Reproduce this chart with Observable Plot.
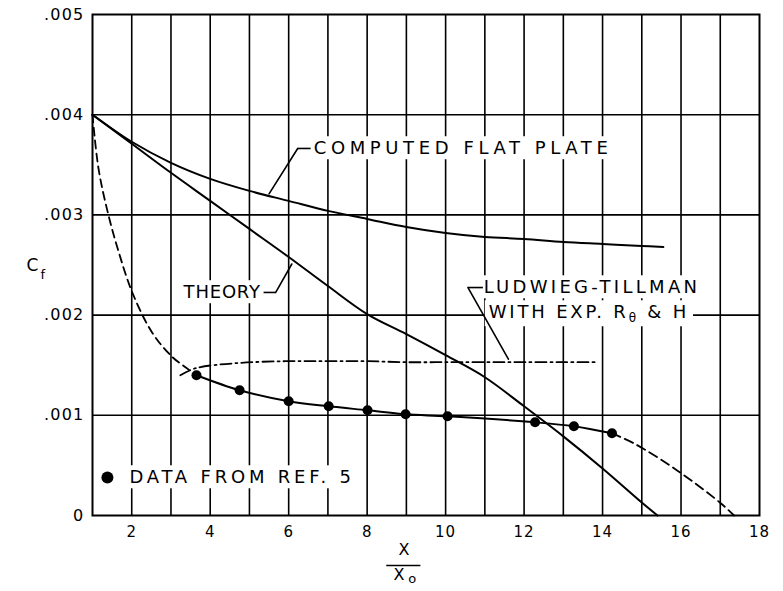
<!DOCTYPE html>
<html><head><meta charset="utf-8">
<script src="https://cdn.jsdelivr.net/npm/d3@7"></script>
<script src="https://cdn.jsdelivr.net/npm/@observablehq/plot@0.6"></script>
<style>body{margin:0;background:#fff}#chart{position:absolute;left:0;top:0}</style>
</head><body><div id="chart"></div>
<script>
// ---- data ----
const xGrid = [2,3,4,5,6,7,8,9,10,11,12,13,14,15,16,17];
const yGrid = [0.001,0.002,0.003,0.004];
const xTickLabels = [2,4,6,8,10,12,14,16,18];
const yTickLabels = [0,0.001,0.002,0.003,0.004,0.005];

const flatX = [1,2,3,4,5,6,7,8,9,10,11,12,13,14,15,15.55];
const flatY = [0.004,0.00373,0.00352,0.00336,0.00324,0.00314,0.00304,0.00296,0.00288,0.00282,0.00278,0.00276,0.00273,0.00271,0.00269,0.00268];

const theoryX = [1,2,3,4,5,6,7,8,9,10,11,12,13,14,15,15.4];
const theoryY = [0.004,0.00371,0.00342,0.00314,0.00286,0.00258,0.00229,0.00201,0.00181,0.0016,0.00138,0.00109,0.00079,0.00047,0.00013,0];

const dataX = [3.65,4.75,6.0,7.02,8.01,8.98,10.05,12.28,13.27,14.24];
const dataY = [0.0014,0.00125,0.00114,0.00109,0.00105,0.00101,0.00099,0.00093,0.00089,0.00082];

const extLeftX = [1,1.15,1.38,1.66,2.02,2.53,3.04,3.37,3.65];
const extLeftY = [0.004,0.00347,0.00304,0.00264,0.00222,0.00182,0.00158,0.00148,0.0014];
const extRightX = [14.24,14.8,15.9,17.02,17.35];
const extRightY = [0.00082,0.00072,0.00045,0.00012,0];

const ltX = [3.24,3.63,4.65,5.92,7,8,9,10,11,12,13,13.85];
const ltY = [0.0014,0.00147,0.00152,0.00154,0.00154,0.00154,0.00153,0.00153,0.00153,0.00153,0.00153,0.00153];

// annotation labels (data coordinates)
const labelsStart = [
  {x:6.64, y:0.003663, text:"COMPUTED FLAT PLATE"},
  {x:10.97, y:0.002275, text:"LUDWIEG-TILLMAN"},
  {x:11.1, y:0.002026, text:"WITH EXP. Rθ & H"},
  {x:1.94, y:0.000379, text:"DATA FROM REF. 5"}
];
const labelsEnd = [{x:5.29, y:0.002226, text:"THEORY"}];
const legendDot = [{x:1.38, y:0.000379}];
const leaderStubs = [
  {x1:6.56, x2:6.23, y:0.003663},
  {x1:5.36, x2:5.67, y:0.002226},
  {x1:10.95, x2:10.57, y:0.002275}
];
const leaderArrows = [
  {x1:6.23, y1:0.003663, x2:5.5, y2:0.00321, bend:-12},
  {x1:5.67, y1:0.002226, x2:6.08, y2:0.00251, bend:-10},
  {x1:10.57, y1:0.002275, x2:11.6, y2:0.00156, bend:0}
];

const pts = (xs, ys) => xs.map((x, i) => ({x, y: ys[i]}));
const fmtY = d => d === 0 ? "0" : d3.format(".3f")(d).slice(1);

const plot = Plot.plot({
  width: 783, height: 591,
  marginLeft: 92, marginRight: 24, marginTop: 14, marginBottom: 76,
  x: {domain: [1, 18], label: null},
  y: {domain: [0, 0.005], label: null},
  style: {fontFamily: "DejaVu Sans", background: "white", color: "black", overflow: "visible"},
  marks: [
    Plot.ruleX(xGrid, {stroke: "black", strokeWidth: 1.6}),
    Plot.ruleY(yGrid, {stroke: "black", strokeWidth: 1.6}),
    Plot.frame({stroke: "black", strokeWidth: 2}),
    Plot.axisX({ticks: xTickLabels, tickSize: 0, tickPadding: 11, fontSize: 15, label: null}),
    Plot.axisY({ticks: yTickLabels, tickSize: 0, tickPadding: 8, fontSize: 16, tickFormat: fmtY, label: null}),
    // labels (white boxes added below interrupt the grid lines)
    Plot.text(labelsStart, {x: "x", y: "y", text: "text", textAnchor: "start", fontSize: 18, fill: "black"}),
    Plot.text(labelsEnd, {x: "x", y: "y", text: "text", textAnchor: "end", fontSize: 18, fill: "black"}),
    Plot.link(leaderStubs, {x1: "x1", x2: "x2", y1: "y", y2: "y", stroke: "black", strokeWidth: 1.6}),
    Plot.arrow(leaderArrows, {x1: "x1", y1: "y1", x2: "x2", y2: "y2", bend: "bend", headLength: 11, headAngle: 35, stroke: "black", strokeWidth: 1.6}),
    // curves
    Plot.line(pts(flatX, flatY), {x: "x", y: "y", curve: "catmull-rom", stroke: "black", strokeWidth: 2}),
    Plot.line(pts(theoryX, theoryY), {x: "x", y: "y", curve: "catmull-rom", stroke: "black", strokeWidth: 2}),
    Plot.line(pts(ltX, ltY), {x: "x", y: "y", curve: "catmull-rom", stroke: "black", strokeWidth: 1.8, strokeDasharray: "11,4,2,4"}),
    Plot.line(pts(extLeftX, extLeftY), {x: "x", y: "y", curve: "catmull-rom", stroke: "black", strokeWidth: 1.8, strokeDasharray: "8,5"}),
    Plot.line(pts(extRightX, extRightY), {x: "x", y: "y", curve: "catmull-rom", stroke: "black", strokeWidth: 1.8, strokeDasharray: "9,5"}),
    Plot.line(pts(dataX, dataY), {x: "x", y: "y", curve: "catmull-rom", stroke: "black", strokeWidth: 2}),
    Plot.dot(pts(dataX, dataY), {x: "x", y: "y", r: 5, fill: "black"}),
    Plot.dot(legendDot, {x: "x", y: "y", r: 6, fill: "black"}),
    // axis titles
    Plot.text(["C"], {frameAnchor: "left", dx: -66, dy: 1, fontSize: 17}),
    Plot.text(["f"], {frameAnchor: "left", dx: -52, dy: 10, fontSize: 13}),
    Plot.text([{x: 8.94}], {x: "x", frameAnchor: "bottom", text: () => "X", dy: 39, fontSize: 16}),
    Plot.ruleY([0], {x1: 8.5, x2: 9.37, dy: 50, stroke: "black", strokeWidth: 1.5}),
    Plot.text([{x: 8.81}], {x: "x", frameAnchor: "bottom", text: () => "X", dy: 64, fontSize: 16}),
    Plot.text([{x: 9.15}], {x: "x", frameAnchor: "bottom", text: () => "o", dy: 67, fontSize: 13})
  ]
});

document.getElementById("chart").appendChild(plot);

// letter spacing to imitate the wide lettering, plus white boxes behind labels
const spacing = {"COMPUTED FLAT PLATE": 4.6, "THEORY": 0.8, "LUDWIEG-TILLMAN": 3.3, "WITH EXP. Rθ & H": 2.8, "DATA FROM REF. 5": 3.8};
d3.select(plot).selectAll("text").each(function() {
  const t = this.textContent;
  if (spacing[t] == null) return;
  this.setAttribute("letter-spacing", spacing[t]);
  if (t === "WITH EXP. Rθ & H") {
    const s = d3.select(this);
    s.text(null);
    s.append("tspan").text("WITH EXP. R");
    s.append("tspan").attr("font-size", 12).attr("dy", 4).text("θ");
    s.append("tspan").attr("dy", -4).text(" & H");
  }
  const b = this.getBBox();
  const rect = document.createElementNS("http://www.w3.org/2000/svg", "rect");
  rect.setAttribute("x", b.x - 4);
  rect.setAttribute("y", b.y - 1);
  rect.setAttribute("width", b.width + 8);
  rect.setAttribute("height", b.height + 2);
  rect.setAttribute("fill", "white");
  const tr = this.getAttribute("transform");
  if (tr) rect.setAttribute("transform", tr);
  this.parentNode.insertBefore(rect, this);
});
d3.select(plot).selectAll('g[aria-label="y-axis tick label"] text').attr("letter-spacing", 1.2);
d3.select(plot).selectAll('g[aria-label="x-axis tick label"] text').attr("letter-spacing", 1);
</script>
</body></html>
